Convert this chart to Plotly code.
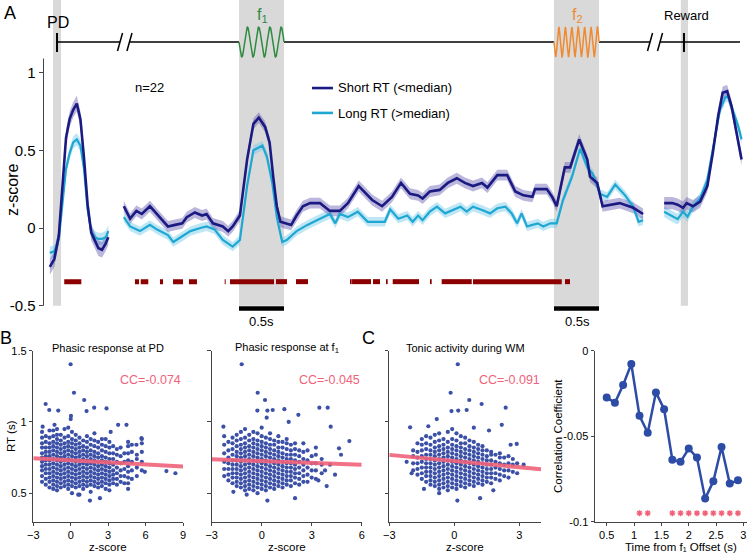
import numpy as np
import plotly.graph_objects as go

W, H = 748, 553
FONT = "Arial, Liberation Sans, sans-serif"

# ---------------- Panel A data (z-score) ----------------
# PD-aligned segment (s relative to probe down)
pd_t = [-0.08, -0.03, 0.02, 0.06, 0.10, 0.14, 0.18, 0.22, 0.26, 0.30, 0.34, 0.38, 0.42, 0.46, 0.50, 0.54, 0.57]
pd_short = [-0.25, -0.20, -0.05, 0.25, 0.58, 0.70, 0.76, 0.80, 0.70, 0.45, 0.15, -0.03, -0.08, -0.13, -0.14, -0.10, -0.06]
pd_long = [-0.16, -0.15, -0.07, 0.15, 0.38, 0.48, 0.55, 0.57, 0.53, 0.38, 0.12, -0.02, -0.06, -0.07, -0.07, -0.06, -0.02]

# f1-aligned segment (s relative to f1 onset)
main_t_short = [-1.28, -1.21, -1.14, -1.08, -0.99, -0.90, -0.79, -0.71, -0.63, -0.58, -0.49, -0.41, -0.36, -0.29,
                -0.18, -0.12, -0.07, 0.01, 0.09, 0.16, 0.22, 0.29, 0.34, 0.38, 0.42, 0.46, 0.51, 0.58, 0.64, 0.71,
                0.79, 0.90, 1.01, 1.12, 1.21, 1.33, 1.48, 1.59, 1.70, 1.80, 1.90, 1.99, 2.04, 2.12, 2.23, 2.32,
                2.42, 2.51, 2.60, 2.70, 2.76, 2.87, 2.98, 3.07, 3.16, 3.26, 3.29, 3.42, 3.48, 3.53, 3.62, 3.68,
                3.78, 3.87, 3.90, 3.98, 4.04, 4.12, 4.23, 4.38, 4.49]
main_short = [0.14, 0.06, 0.11, 0.09, 0.14, 0.08, 0.01, 0.02, 0.03, 0.07, 0.10, 0.08, 0.09, 0.03,
              0.01, -0.02, 0.01, 0.08, 0.44, 0.67, 0.71, 0.65, 0.55, 0.33, 0.14, 0.04, 0.03, 0.02, 0.08, 0.14,
              0.16, 0.16, 0.11, 0.11, 0.16, 0.27, 0.18, 0.14, 0.20, 0.29, 0.22, 0.21, 0.19, 0.235, 0.245, 0.29,
              0.32, 0.29, 0.27, 0.29, 0.26, 0.34, 0.34, 0.235, 0.21, 0.20, 0.25, 0.25, 0.20, 0.14, 0.39, 0.39,
              0.57, 0.44, 0.33, 0.29, 0.14, 0.15, 0.16, 0.13, 0.09]
main_t_long = [-1.28, -1.21, -1.10, -0.99, -0.91, -0.79, -0.73, -0.63, -0.54, -0.43, -0.36, -0.27, -0.18, -0.07,
               0.01, 0.09, 0.16, 0.26, 0.31, 0.37, 0.42, 0.48, 0.53, 0.64, 0.76, 0.90, 1.01, 1.07, 1.12, 1.21,
               1.32, 1.43, 1.51, 1.62, 1.68, 1.77, 1.87, 1.93, 1.99, 2.04, 2.12, 2.20, 2.29, 2.38, 2.46, 2.53,
               2.60, 2.70, 2.79, 2.87, 2.96, 3.03, 3.09, 3.14, 3.20, 3.26, 3.32, 3.38, 3.46, 3.53, 3.60, 3.70,
               3.79, 3.87, 3.93, 4.01, 4.09, 4.18, 4.29, 4.38, 4.44, 4.49]
main_long = [0.07, 0.01, -0.02, 0.02, -0.01, -0.045, -0.09, -0.056, -0.02, 0.0, 0.01, -0.01, -0.077, -0.12,
             -0.077, 0.27, 0.50, 0.53, 0.46, 0.29, 0.07, -0.09, -0.077, -0.02, 0.02, 0.06, 0.09, 0.03, 0.09, 0.07,
             0.105, 0.04, 0.04, 0.04, 0.12, 0.06, 0.08, 0.04, 0.08, 0.05, 0.105, 0.137, 0.094, 0.116, 0.137, 0.105,
             0.137, 0.116, 0.094, 0.127, 0.137, 0.094, 0.03, 0.094, 0.01, 0.02, 0.03, 0.01, 0.03, 0.03, 0.18, 0.33,
             0.51, 0.39, 0.35, 0.22, 0.20, 0.28, 0.21, 0.137, 0.04, 0.05]

# Reward-aligned segment (s relative to reward)
rew_t_short = [-0.22, -0.13, -0.07, -0.01, 0.03, 0.10, 0.18, 0.26, 0.32, 0.38, 0.43, 0.48, 0.53, 0.59, 0.64]
rew_short = [0.16, 0.16, 0.15, 0.13, 0.16, 0.14, 0.17, 0.27, 0.48, 0.72, 0.87, 0.88, 0.78, 0.59, 0.44]
rew_t_long = [-0.22, -0.13, -0.07, -0.01, 0.04, 0.10, 0.18, 0.26, 0.32, 0.40, 0.46, 0.49, 0.54, 0.60, 0.64]
rew_long = [0.105, 0.073, 0.057, 0.105, 0.073, 0.137, 0.19, 0.31, 0.51, 0.76, 0.84, 0.845, 0.76, 0.66, 0.57]

sem_short = {"pd": 0.05, "main": 0.035, "rew": 0.04}
sem_long = {"pd": 0.04, "main": 0.03, "rew": 0.035}

# significance (s): PD-relative and f1-relative
sig_pd_start, sig_pd_end = [0.08], [0.27]
sig_start = [-1.156, -1.092, -0.878, -0.733, -0.556, -0.159, -0.10, 0.411, 0.633, 1.233, 1.256, 1.489,
             1.633, 1.708, 2.122, 2.252, 2.60, 3.622]
sig_end = [-1.111, -1.008, -0.844, -0.622, -0.467, -0.148, 0.389, 0.533, 0.767, 1.252, 1.467, 1.567,
           1.652, 2.0, 2.141, 2.586, 3.586, 3.678]

# events (s, f1-aligned axis)
F1_ON, F1_OFF = 0.0, 0.5
F2_ON, F2_OFF = 3.5, 4.0
PD_X = -2.022
REW_X = 4.944

# ---------------- Panel B/C scatter data ----------------
b1_cols = {
    -2.3: [0.58, 0.62, 0.66, 0.69, 0.72, 0.75, 0.78, 0.82, 0.85, 0.89, 0.93],
    -2.0: [0.56, 0.60, 0.64, 0.67, 0.70, 0.73, 0.76, 0.79, 0.82, 0.86, 0.90],
    -1.7: [0.54, 0.58, 0.61, 0.64, 0.67, 0.70, 0.73, 0.76, 0.79, 0.82, 0.85, 0.89, 0.94],
    -1.4: [0.53, 0.56, 0.59, 0.62, 0.65, 0.68, 0.71, 0.74, 0.77, 0.80, 0.83, 0.86, 0.90, 0.94],
    -1.1: [0.52, 0.55, 0.58, 0.61, 0.64, 0.67, 0.70, 0.73, 0.76, 0.79, 0.82, 0.85, 0.88, 0.91, 0.95],
    -0.8: [0.54, 0.57, 0.60, 0.63, 0.66, 0.69, 0.72, 0.75, 0.78, 0.81, 0.84, 0.87, 0.91],
    -0.5: [0.55, 0.58, 0.61, 0.64, 0.67, 0.70, 0.73, 0.76, 0.79, 0.82, 0.85, 0.89],
    -0.2: [0.53, 0.56, 0.59, 0.62, 0.65, 0.68, 0.71, 0.74, 0.77, 0.80, 0.83, 0.86, 0.90, 0.96],
    0.1: [0.50, 0.55, 0.58, 0.61, 0.64, 0.67, 0.70, 0.73, 0.76, 0.79, 0.82, 0.85, 0.88, 0.93],
    0.4: [0.54, 0.57, 0.60, 0.63, 0.66, 0.69, 0.72, 0.75, 0.78, 0.81, 0.84, 0.87, 0.91],
    0.7: [0.49, 0.55, 0.58, 0.61, 0.64, 0.67, 0.70, 0.73, 0.76, 0.79, 0.82, 0.85, 0.89],
    1.0: [0.53, 0.56, 0.59, 0.62, 0.65, 0.68, 0.71, 0.74, 0.77, 0.80, 0.83, 0.87],
    1.3: [0.55, 0.58, 0.61, 0.64, 0.67, 0.70, 0.73, 0.76, 0.79, 0.82, 0.86, 0.90],
    1.6: [0.51, 0.56, 0.59, 0.62, 0.65, 0.68, 0.71, 0.74, 0.77, 0.80, 0.84, 0.88],
    1.9: [0.55, 0.58, 0.61, 0.64, 0.67, 0.70, 0.73, 0.76, 0.79, 0.83, 0.87, 0.92],
    2.2: [0.54, 0.57, 0.60, 0.63, 0.66, 0.69, 0.72, 0.75, 0.78, 0.82, 0.86],
    2.5: [0.55, 0.58, 0.61, 0.64, 0.67, 0.70, 0.73, 0.76, 0.80, 0.84, 0.88],
    2.8: [0.53, 0.57, 0.60, 0.63, 0.66, 0.69, 0.72, 0.75, 0.79, 0.83, 0.88],
    3.1: [0.52, 0.56, 0.59, 0.62, 0.65, 0.68, 0.71, 0.74, 0.78, 0.82, 0.86],
    3.4: [0.57, 0.60, 0.63, 0.66, 0.70, 0.74, 0.78, 0.83],
    3.7: [0.56, 0.60, 0.64, 0.68, 0.72, 0.77, 0.81],
    4.0: [0.58, 0.62, 0.66, 0.71, 0.76, 0.82],
    4.3: [0.57, 0.62, 0.67, 0.72, 0.78],
    4.6: [0.53, 0.57, 0.61, 0.65, 0.69, 0.73, 0.78, 0.83, 0.86],
    4.9: [0.60, 0.66, 0.72, 0.79, 0.84],
    5.3: [0.62, 0.68, 0.74, 0.77],
    5.7: [0.66, 0.72, 0.79, 0.85, 0.88],
}
b1_out_x = [-0.01, 0.26, 1.08, -2.01, -1.72, -1.0, 1.88, 2.87, 0.02, 0.0, 1.27, 3.8, 4.47, -2.25, 5.67,
            5.27, 5.94, 7.67, 8.39, 1.54, 2.34, 0.6, -0.5, 3.2, -1.3]
b1_out_y = [1.405, 1.205, 1.154, 1.126, 1.084, 1.08, 1.10, 1.095, 1.042, 1.02, 1.076, 0.98, 0.98, 0.967, 0.886,
            0.84, 0.65, 0.655, 0.64, 0.448, 0.465, 0.49, 0.95, 0.93, 0.98]
b1_fit = [0.745, 0.687]  # RT at z=-3 and z=9

b2_cols = {
    -2.25: [0.62, 0.67, 0.72, 0.78, 0.84, 0.90],
    -2.0: [0.59, 0.63, 0.67, 0.71, 0.75, 0.80, 0.86],
    -1.75: [0.57, 0.61, 0.64, 0.67, 0.70, 0.73, 0.77, 0.81, 0.85, 0.89],
    -1.5: [0.55, 0.58, 0.61, 0.64, 0.67, 0.70, 0.73, 0.76, 0.79, 0.83, 0.87, 0.91],
    -1.25: [0.54, 0.57, 0.60, 0.63, 0.66, 0.69, 0.72, 0.75, 0.78, 0.81, 0.84, 0.88, 0.93],
    -1.0: [0.52, 0.55, 0.58, 0.61, 0.64, 0.67, 0.70, 0.73, 0.76, 0.79, 0.82, 0.85, 0.89, 0.95],
    -0.75: [0.53, 0.56, 0.59, 0.62, 0.65, 0.68, 0.71, 0.74, 0.77, 0.80, 0.83, 0.87, 0.91],
    -0.5: [0.52, 0.55, 0.58, 0.61, 0.64, 0.67, 0.70, 0.73, 0.76, 0.79, 0.82, 0.85, 0.88, 0.93],
    -0.25: [0.50, 0.54, 0.57, 0.60, 0.63, 0.66, 0.69, 0.72, 0.75, 0.78, 0.81, 0.84, 0.87, 0.92],
    0.0: [0.53, 0.56, 0.59, 0.62, 0.65, 0.68, 0.71, 0.74, 0.77, 0.80, 0.83, 0.86, 0.90, 0.96],
    0.25: [0.52, 0.55, 0.58, 0.61, 0.64, 0.67, 0.70, 0.73, 0.76, 0.79, 0.82, 0.85, 0.89],
    0.5: [0.54, 0.57, 0.60, 0.63, 0.66, 0.69, 0.72, 0.75, 0.78, 0.81, 0.84, 0.88, 0.92],
    0.75: [0.53, 0.56, 0.59, 0.62, 0.65, 0.68, 0.71, 0.74, 0.77, 0.80, 0.84, 0.87],
    1.0: [0.55, 0.58, 0.61, 0.64, 0.67, 0.70, 0.73, 0.76, 0.79, 0.82, 0.86, 0.90],
    1.25: [0.54, 0.57, 0.60, 0.63, 0.66, 0.69, 0.72, 0.75, 0.78, 0.82, 0.86],
    1.5: [0.56, 0.59, 0.62, 0.65, 0.68, 0.71, 0.74, 0.77, 0.81, 0.85, 0.88],
    1.75: [0.55, 0.59, 0.62, 0.65, 0.68, 0.71, 0.74, 0.77, 0.80, 0.84],
    2.0: [0.57, 0.61, 0.64, 0.67, 0.70, 0.73, 0.77, 0.81, 0.85],
    2.25: [0.56, 0.60, 0.64, 0.68, 0.72, 0.76, 0.80],
    2.5: [0.58, 0.62, 0.66, 0.70, 0.74, 0.79, 0.85],
    2.75: [0.58, 0.63, 0.68, 0.73, 0.80],
    3.0: [0.61, 0.66, 0.71, 0.76],
    3.25: [0.60, 0.66, 0.71, 0.77, 0.82],
    3.6: [0.64, 0.70, 0.74],
}
b2_out_x = [-1.2, -0.24, 0.2, -0.26, 0.34, 0.66, 1.36, 0.3, 2.2, 3.46, 3.96, 1.62, -2.3, 4.14, 5.26, 4.64,
            4.76, 4.4, 3.4, 3.9, -1.7, 0.34, 2.0, -0.9, 4.1, 3.8]
b2_out_y = [1.405, 1.205, 1.154, 1.08, 1.08, 1.084, 1.09, 1.03, 1.05, 1.10, 1.10, 1.0, 0.967, 0.967, 0.866, 0.815,
            0.77, 0.63, 0.59, 0.55, 0.51, 0.448, 0.465, 0.49, 0.70, 0.66]
b2_fit = [0.738, 0.699]  # RT at z=-3 and z=6

c1_cols = {
    -1.9: [0.66, 0.71, 0.76, 0.80],
    -1.7: [0.63, 0.67, 0.71, 0.75, 0.79, 0.85],
    -1.5: [0.60, 0.64, 0.68, 0.72, 0.76, 0.80, 0.84, 0.88],
    -1.3: [0.58, 0.62, 0.65, 0.68, 0.71, 0.74, 0.77, 0.81, 0.85, 0.90],
    -1.1: [0.56, 0.59, 0.62, 0.65, 0.68, 0.71, 0.74, 0.77, 0.80, 0.84, 0.89],
    -0.9: [0.55, 0.58, 0.61, 0.64, 0.67, 0.70, 0.73, 0.76, 0.79, 0.82, 0.86, 0.91],
    -0.7: [0.53, 0.56, 0.59, 0.62, 0.65, 0.68, 0.71, 0.74, 0.77, 0.80, 0.83, 0.87, 0.92],
    -0.5: [0.54, 0.57, 0.60, 0.63, 0.66, 0.69, 0.72, 0.75, 0.78, 0.81, 0.84, 0.88],
    -0.3: [0.52, 0.55, 0.58, 0.61, 0.64, 0.67, 0.70, 0.73, 0.76, 0.79, 0.82, 0.86, 0.93],
    -0.1: [0.54, 0.57, 0.60, 0.63, 0.66, 0.69, 0.72, 0.75, 0.78, 0.81, 0.84, 0.88, 0.95],
    0.1: [0.53, 0.56, 0.59, 0.62, 0.65, 0.68, 0.71, 0.74, 0.77, 0.80, 0.83, 0.87, 0.92],
    0.3: [0.55, 0.58, 0.61, 0.64, 0.67, 0.70, 0.73, 0.76, 0.79, 0.82, 0.85, 0.90],
    0.5: [0.54, 0.57, 0.60, 0.63, 0.66, 0.69, 0.72, 0.75, 0.78, 0.81, 0.85, 0.89],
    0.7: [0.56, 0.59, 0.62, 0.65, 0.68, 0.71, 0.74, 0.77, 0.80, 0.83, 0.87],
    0.9: [0.55, 0.58, 0.61, 0.64, 0.67, 0.70, 0.73, 0.76, 0.79, 0.82, 0.86],
    1.1: [0.57, 0.60, 0.63, 0.66, 0.69, 0.72, 0.75, 0.78, 0.81, 0.84],
    1.3: [0.56, 0.59, 0.62, 0.65, 0.68, 0.71, 0.74, 0.77, 0.80, 0.83],
    1.5: [0.58, 0.61, 0.64, 0.67, 0.70, 0.73, 0.76, 0.80],
    1.7: [0.57, 0.61, 0.64, 0.67, 0.70, 0.73, 0.77, 0.79],
    1.9: [0.60, 0.64, 0.68, 0.72, 0.77],
    2.1: [0.59, 0.63, 0.67, 0.71, 0.75, 0.78],
    2.3: [0.62, 0.66, 0.70, 0.75],
    2.5: [0.61, 0.66, 0.71, 0.76],
    2.7: [0.65, 0.70, 0.74],
    2.9: [0.64, 0.71],
}
c1_out_x = [0.16, -0.17, 0.69, 1.26, 2.37, -0.13, 0.18, 0.57, -2.04, 2.19, -0.81, -1.97, -0.7, 0.14, 1.19,
            2.88, 2.6, 3.2, -2.2, 1.6, -1.2, 0.9, 1.8, -1.4]
c1_out_y = [1.405, 1.205, 1.154, 1.126, 1.10, 1.076, 1.08, 1.084, 0.962, 0.98, 1.02, 0.64, 0.50, 0.448, 0.465,
            0.846, 0.84, 0.70, 0.72, 0.94, 0.97, 0.96, 0.52, 0.53]
c1_fit = [0.769, 0.668]  # RT at z=-3 and z=4

# correlation over time
cc_t = [0.5, 0.65, 0.8, 0.95, 1.1, 1.25, 1.4, 1.55, 1.7, 1.85, 2.0, 2.15, 2.3, 2.45, 2.6, 2.75, 2.9]
cc_val = [-0.0273, -0.0305, -0.0201, -0.0078, -0.0381, -0.048, -0.0244, -0.0342, -0.0637, -0.065, -0.0572,
          -0.0625, -0.0865, -0.0764, -0.0563, -0.0777, -0.0758]
cc_sig_t = [1.1, 1.25, 1.7, 1.85, 2.0, 2.15, 2.3, 2.45, 2.6, 2.75, 2.9]
cc_sig_y = -0.095

# ---------------- colours ----------------
C_SHORT = "#1a1a82"
C_SHORT_BAND = "rgba(92,84,172,0.42)"
C_LONG = "#1ea7d2"
C_LONG_BAND = "rgba(110,200,232,0.45)"
C_SIG = "#8c0000"
C_GRAY = "#d9d9d9"
C_DOT = "#3b50a6"
C_PINK = "#f0627a"
C_F1 = "#2e8b3f"
C_F2 = "#f08a30"
AX = "#444444"


def flat(cols, ox, oy):
    xs, ys = [], []
    for k, v in cols.items():
        xs += [k] * len(v)
        ys += list(v)
    return xs + list(ox), ys + list(oy)


def P(px, py):
    return px / W, 1 - py / H


fig = go.Figure()


def band(x, y, s, color):
    x = np.asarray(x, float)
    y = np.asarray(y, float)
    return go.Scatter(x=np.concatenate([x, x[::-1]]), y=np.concatenate([y + s, (y - s)[::-1]]),
                      fill="toself", fillcolor=color, line=dict(width=0), mode="lines",
                      hoverinfo="skip", showlegend=False, xaxis="x", yaxis="y")


segs = [
    ("pd", PD_X, pd_t, pd_short, pd_t, pd_long),
    ("main", 0.0, main_t_short, main_short, main_t_long, main_long),
    ("rew", REW_X, rew_t_short, rew_short, rew_t_long, rew_long),
]
for name, off, ts, ys, tl, yl in segs:
    fig.add_trace(band(np.asarray(tl) + off, yl, sem_long[name], C_LONG_BAND))
    fig.add_trace(band(np.asarray(ts) + off, ys, sem_short[name], C_SHORT_BAND))
for name, off, ts, ys, tl, yl in segs:
    fig.add_trace(go.Scatter(x=np.asarray(tl) + off, y=yl, mode="lines", line=dict(color=C_LONG, width=2.2),
                             showlegend=False, xaxis="x", yaxis="y"))
    fig.add_trace(go.Scatter(x=np.asarray(ts) + off, y=ys, mode="lines", line=dict(color=C_SHORT, width=2.6),
                             showlegend=False, xaxis="x", yaxis="y"))

# significance bars
sx, sy = [], []
for a, b in zip(sig_pd_start, sig_pd_end):
    sx += [a + PD_X, b + PD_X, None]
    sy += [-0.345, -0.345, None]
for a, b in zip(sig_start, sig_end):
    sx += [a, b, None]
    sy += [-0.345, -0.345, None]
fig.add_trace(go.Scatter(x=sx, y=sy, mode="lines", line=dict(color=C_SIG, width=5), showlegend=False,
                         xaxis="x", yaxis="y"))

# timeline schematic
TL = 1.196
AMP = 0.096
tl_parts = [(PD_X, -1.322), (-1.217, F1_ON), (F1_OFF, F2_ON), (F2_OFF, 4.567), (4.678, 5.567)]
lx, ly = [], []
for a, b in tl_parts:
    lx += [a, b, None]
    ly += [TL, TL, None]
fig.add_trace(go.Scatter(x=lx, y=ly, mode="lines", line=dict(color="black", width=1.5), showlegend=False,
                         xaxis="x", yaxis="y"))
w1 = np.linspace(F1_ON, F1_OFF, 200)
fig.add_trace(go.Scatter(x=w1, y=TL - AMP * np.sin(2 * np.pi * 4 * (w1 - F1_ON) / 0.5), mode="lines",
                         line=dict(color=C_F1, width=1.5), showlegend=False, xaxis="x", yaxis="y"))
w2 = np.linspace(F2_ON, F2_OFF, 300)
fig.add_trace(go.Scatter(x=w2, y=TL - AMP * np.sin(2 * np.pi * 7 * (w2 - F2_ON) / 0.5), mode="lines",
                         line=dict(color=C_F2, width=1.5), showlegend=False, xaxis="x", yaxis="y"))

# legend samples
fig.add_trace(go.Scatter(x=[0.811, 1.044], y=[0.90, 0.90], mode="lines", line=dict(color=C_SHORT, width=2.6),
                         showlegend=False, xaxis="x", yaxis="y"))
fig.add_trace(go.Scatter(x=[0.811, 1.044], y=[0.74, 0.74], mode="lines", line=dict(color=C_LONG, width=2.6),
                         showlegend=False, xaxis="x", yaxis="y"))

# ---------------- scatter panels ----------------
scat = [
    (b1_cols, b1_out_x, b1_out_y, b1_fit, [-3, 9], "2"),
    (b2_cols, b2_out_x, b2_out_y, b2_fit, [-3, 6], "3"),
    (c1_cols, c1_out_x, c1_out_y, c1_fit, [-3, 4], "4"),
]
for cols, ox, oy, fit, xr, n in scat:
    xs, ys = flat(cols, ox, oy)
    fig.add_trace(go.Scatter(x=xs, y=ys, mode="markers", marker=dict(color=C_DOT, size=4.2),
                             showlegend=False, xaxis="x" + n, yaxis="y" + n))
    fig.add_trace(go.Scatter(x=xr, y=fit, mode="lines", line=dict(color=C_PINK, width=4),
                             opacity=0.9, showlegend=False, xaxis="x" + n, yaxis="y" + n))

fig.add_trace(go.Scatter(x=cc_t, y=cc_val, mode="lines+markers", line=dict(color="#2d4ca6", width=2.5),
                         marker=dict(color="#2d4ca6", size=8), showlegend=False, xaxis="x5", yaxis="y5"))
fig.add_trace(go.Scatter(x=cc_sig_t, y=[cc_sig_y] * len(cc_sig_t), mode="markers",
                         marker=dict(symbol="asterisk-open", size=5, color=C_PINK,
                                     line=dict(color=C_PINK, width=1.4)),
                         showlegend=False, xaxis="x5", yaxis="y5"))

# ---------------- shapes ----------------
shapes = []
for a, b in [(PD_X - 0.045, PD_X + 0.045), (F1_ON, F1_OFF), (F2_ON, F2_OFF), (REW_X - 0.035, REW_X + 0.045)]:
    shapes.append(dict(type="rect", xref="x", yref="y", x0=a, x1=b, y0=-0.5, y1=1.466,
                       fillcolor=C_GRAY, line=dict(width=0), layer="below"))
# scale bars
for a, b in [(F1_ON, F1_OFF), (F2_ON, F2_OFF)]:
    shapes.append(dict(type="line", xref="x", yref="y", x0=a, x1=b, y0=-0.517, y1=-0.517,
                       line=dict(color="black", width=4.5)))
# event ticks
for ex in [PD_X, REW_X]:
    shapes.append(dict(type="line", xref="x", yref="y", x0=ex, x1=ex, y0=1.132, y1=1.254,
                       line=dict(color="black", width=2)))
# break slashes
for c in [-1.322, -1.217, 4.567, 4.678]:
    shapes.append(dict(type="line", xref="x", yref="y", x0=c - 0.028, x1=c + 0.028, y0=TL - 0.058,
                       y1=TL + 0.058, line=dict(color="black", width=1.5)))
# panel A y-axis line
shapes.append(dict(type="line", xref="paper", yref="y", x0=43.5 / W, x1=43.5 / W, y0=-0.5, y1=1.09,
                   line=dict(color=AX, width=1)))

# ---------------- annotations ----------------
ann = []


def txt(text, px, py, size, color="black", xanchor="center", angle=0):
    x, y = P(px, py)
    ann.append(dict(text=text, x=x, y=y, xref="paper", yref="paper", showarrow=False, xanchor=xanchor,
                    yanchor="middle", textangle=angle, font=dict(size=size, color=color, family=FONT)))


txt("A", 10, 13, 18)
txt("B", 6, 338, 18)
txt("C", 368, 338, 18)
txt("PD", 57.5, 22, 16)
txt("f<sub>1</sub>", 262, 16, 16, C_F1)
txt("f<sub>2</sub>", 577, 16, 16, C_F2)
txt("Reward", 686, 16, 13)
txt("n=22", 133, 88, 13, xanchor="left")
txt("Short RT (<median)", 336, 88, 13, xanchor="left")
txt("Long RT (>median)", 336, 113, 13, xanchor="left")
txt("0.5s", 261.5, 321, 13)
txt("0.5s", 577.5, 321, 13)
txt("z-score", 12, 190, 16, angle=-90)

txt("Phasic response at PD", 108, 348, 11)
txt("Phasic response at f<sub>1</sub>", 286.7, 348, 11)
txt("Tonic activity during WM", 465, 348, 11)
txt("CC=-0.074", 183, 380, 12.5, C_PINK, xanchor="right")
txt("CC=-0.045", 361.7, 380, 12.5, C_PINK, xanchor="right")
txt("CC=-0.091", 541.7, 380, 12.5, C_PINK, xanchor="right")
txt("RT (s)", 11, 436, 11.5, angle=-90)
txt("z-score", 108, 546.5, 11.5)
txt("z-score", 286.7, 546.5, 11.5)
txt("z-score", 465, 546.5, 11.5)
txt("Time from f\u2081 Offset (s)", 681, 546.5, 11.5)
txt("Correlation Coefficient", 558, 436, 11.5, angle=-90)

# ---------------- axes ----------------
yb0, yb1 = 1 - 521.7 / H, 1 - 350.7 / H


def sax(domain, rng, tickvals, labels=True, ticktext=None):
    d = dict(domain=domain, range=rng, tickvals=tickvals, showgrid=False, zeroline=False, showline=True,
             linecolor=AX, linewidth=1, ticks="outside", ticklen=3.5, tickcolor=AX, tickwidth=1,
             showticklabels=labels, tickfont=dict(size=11, family=FONT, color="black"), fixedrange=True,
             automargin=False)
    if ticktext is not None:
        d["ticktext"] = ticktext
    return d


layout = dict(
    width=W, height=H, autosize=False,
    margin=dict(l=0, r=0, t=0, b=0, pad=0, autoexpand=False),
    paper_bgcolor="white", plot_bgcolor="rgba(0,0,0,0)",
    font=dict(family=FONT, color="black"),
    showlegend=False,
    shapes=shapes, annotations=ann,
    xaxis=dict(domain=[43.5 / W, 1], range=[(43.5 - 239) / 90, (748 - 239) / 90], visible=False,
               fixedrange=True, automargin=False),
    yaxis=dict(domain=[1 - 330 / H, 1], range=[(228 - 330) / 155.5, 228 / 155.5],
               tickvals=[-0.5, 0, 0.5, 1], ticktext=["-0.5", "0", "0.5", "1"], ticks="outside", ticklen=4,
               tickcolor=AX, showline=False, showgrid=False, zeroline=False,
               tickfont=dict(size=15, family=FONT), fixedrange=True, automargin=False),
    xaxis2=sax([33.3 / W, 183 / W], [-3, 9], [-3, 0, 3, 6, 9]),
    yaxis2=sax([yb0, yb1], [0.3, 1.5], [0.5, 1, 1.5], True, ["0.5", "1", "1.5"]),
    xaxis3=sax([211.7 / W, 361.7 / W], [-3, 6], [-3, 0, 3, 6]),
    yaxis3=sax([yb0, yb1], [0.3, 1.5], [0.5, 1, 1.5], False),
    xaxis4=sax([389.3 / W, 541 / W], [-3, 4], [-3, 0, 3]),
    yaxis4=sax([yb0, yb1], [0.3, 1.5], [0.5, 1, 1.5], False),
    xaxis5=sax([595 / W, 746.7 / W], [0.286, 3.06], [0.5, 1, 1.5, 2, 2.5, 3], True,
               ["0.5", "1", "1.5", "2", "2.5", "3"]),
    yaxis5=sax([yb0, yb1], [-0.1, 0], [-0.1, -0.05, 0], True, ["-0.1", "-0.05", "0"]),
)
for i in range(2, 6):
    layout["xaxis%d" % i]["anchor"] = "y%d" % i
    layout["yaxis%d" % i]["anchor"] = "x%d" % i
fig.update_layout(**layout)
fig.write_html("out.html", config={"responsive": False, "displayModeBar": False},
               post_script="document.body.style.margin='0';document.body.style.overflow='hidden';")
